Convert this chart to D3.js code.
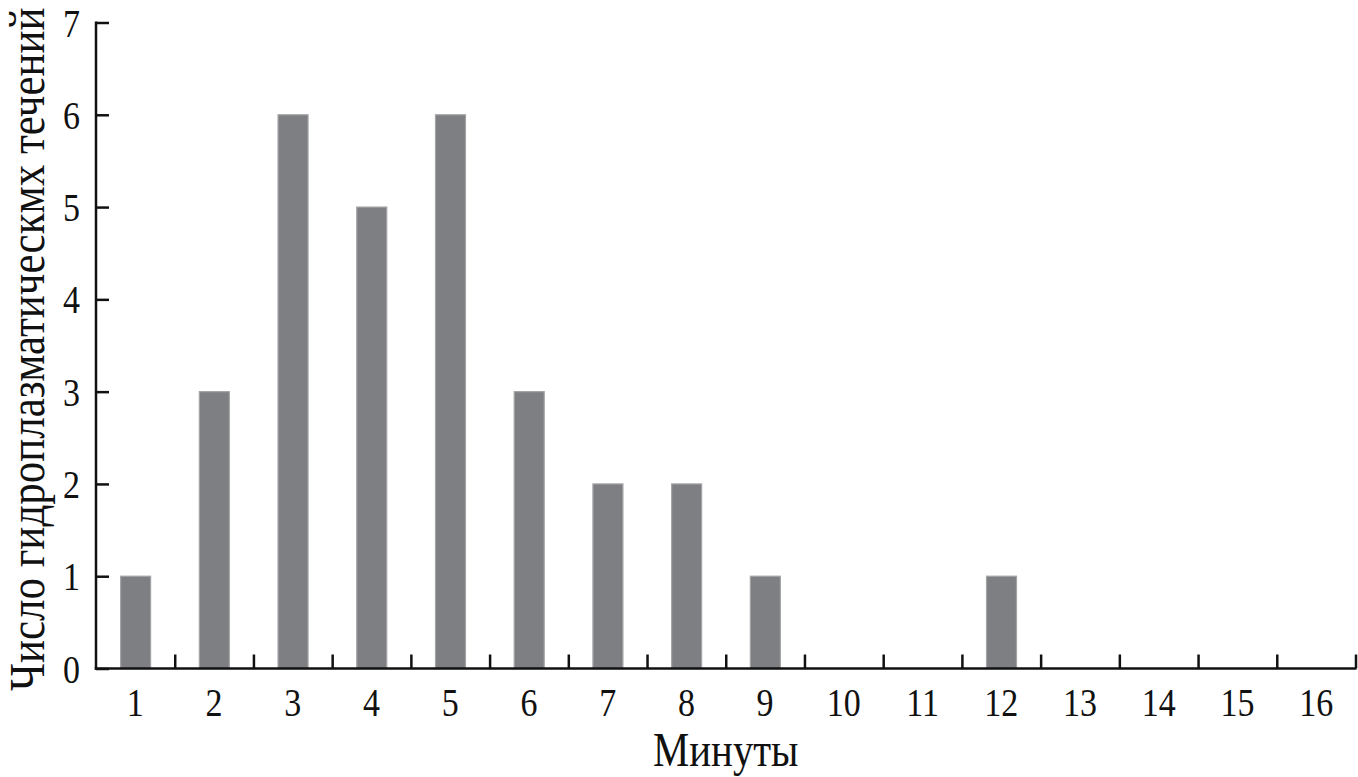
<!DOCTYPE html>
<html><head><meta charset="utf-8">
<script src="https://cdn.jsdelivr.net/npm/d3@7"></script>
<style>
html,body{margin:0;padding:0;background:#fff;}
svg{display:block;}
text{font-family:"Liberation Serif","Times New Roman",serif;fill:#111;}
</style></head>
<body>
<script>
const categories = ["1","2","3","4","5","6","7","8","9","10","11","12","13","14","15","16"];
const counts = [1,3,6,5,6,3,2,2,1,0,0,1,0,0,0,0];
const yTicks = [0,1,2,3,4,5,6,7];
const xTitle = "Минуты";
const yTitle = "Число гидроплазматическмх течений";

const W = 1358, H = 777;
const mLeft = 96, mRight = 1355.5, mTop = 22.5, mBottom = 668.5;
const sx = 0.85;

const svg = d3.select("body").append("svg").attr("width", W).attr("height", H);

const x = d3.scaleBand().domain(categories).range([mLeft, mRight]).paddingInner(0.6).paddingOuter(0.3);
const xb = d3.scaleLinear().domain([0, categories.length]).range([mLeft, mRight]);
const y = d3.scaleLinear().domain([0, 7]).range([mBottom, mTop]);

// bars
svg.append("g").selectAll("rect").data(categories.map((c,i)=>({c, v: counts[i]})).filter(d=>d.v>0))
  .join("rect")
  .attr("x", d => x(d.c) + 1)
  .attr("width", x.bandwidth() - 1.5)
  .attr("y", d => y(d.v))
  .attr("height", d => y(0) - y(d.v))
  .attr("fill", "#7e7f82")
  .attr("stroke", "#a3a3a5")
  .attr("stroke-width", 1.2);

// x boundary ticks (inward)
const gxb = svg.append("g").attr("transform", `translate(0,${mBottom})`)
  .call(d3.axisBottom(xb).tickValues(d3.range(1, categories.length + 1)).tickSize(-14).tickSizeOuter(0).tickFormat(""));
gxb.select(".domain").remove();
gxb.selectAll(".tick line").attr("stroke", "#111").attr("stroke-width", 2.5);

// x labels
const gx = svg.append("g").attr("transform", `translate(0,${mBottom})`)
  .call(d3.axisBottom(x).tickSize(0).tickSizeOuter(0).tickPadding(48));
gx.select(".domain").remove();
gx.selectAll(".tick text").attr("font-size", 40).attr("dy", 0)
  .attr("transform", `scale(${sx},1)`);

// y axis
const gy = svg.append("g").attr("transform", `translate(${mLeft},0)`)
  .call(d3.axisLeft(y).tickValues(yTicks).tickSize(-13).tickSizeOuter(0).tickFormat(d3.format("d")));
gy.select(".domain").remove();
gy.selectAll(".tick line").attr("stroke", "#111").attr("stroke-width", 2.5);
gy.selectAll(".tick text").attr("font-size", 40).attr("x", -16 / sx).attr("dy", "0.34em")
  .attr("transform", `scale(${sx},1)`);

// axis lines
svg.append("line").attr("x1", mLeft).attr("x2", mLeft).attr("y1", mTop - 1).attr("y2", mBottom + 1.25)
  .attr("stroke", "#111").attr("stroke-width", 2.5);
svg.append("line").attr("x1", mLeft - 1.25).attr("x2", mRight + 1).attr("y1", mBottom).attr("y2", mBottom)
  .attr("stroke", "#111").attr("stroke-width", 2.5);

// titles
svg.append("text").attr("transform", `translate(${(mLeft + mRight) / 2},766) scale(${sx},1)`)
  .attr("text-anchor", "middle").attr("font-size", 48).text(xTitle);
svg.append("text").attr("transform", `translate(44,691) rotate(-90) scale(0.86,1)`)
  .attr("text-anchor", "start").attr("font-size", 50).text(yTitle);
</script>
</body></html>
